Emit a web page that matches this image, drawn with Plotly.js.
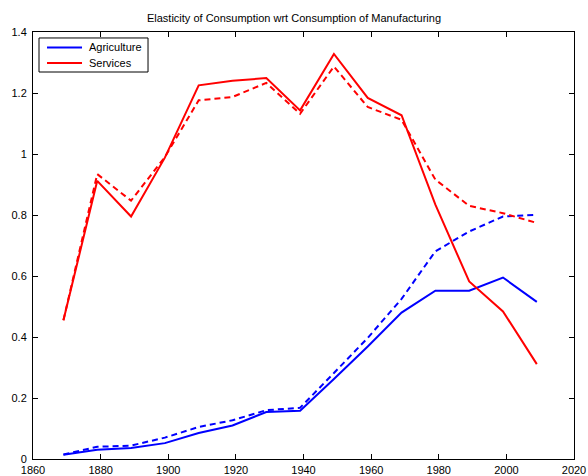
<!DOCTYPE html>
<html>
<head>
<meta charset="utf-8">
<script src="https://cdn.plot.ly/plotly-3.0.1.min.js"></script>
<style>html,body{margin:0;padding:0;background:#fff;}#chart{width:588px;height:476px;}</style>
</head>
<body>
<div id="chart"></div>
<script>
const years = [1869, 1879, 1889, 1899, 1909, 1919, 1929, 1939, 1949, 1959, 1969, 1979, 1989, 1999, 2009];
const agricultureData  = [0.014, 0.030, 0.036, 0.052, 0.085, 0.110, 0.154, 0.158, 0.262, 0.369, 0.480, 0.552, 0.552, 0.595, 0.515];
const agricultureModel = [0.015, 0.040, 0.044, 0.070, 0.105, 0.127, 0.160, 0.168, 0.282, 0.397, 0.525, 0.681, 0.746, 0.795, 0.801];
const servicesData     = [0.455, 0.912, 0.795, 0.988, 1.225, 1.240, 1.249, 1.143, 1.328, 1.184, 1.127, 0.834, 0.582, 0.484, 0.311];
const servicesModel    = [0.455, 0.934, 0.847, 0.990, 1.176, 1.187, 1.233, 1.132, 1.287, 1.154, 1.112, 0.916, 0.830, 0.806, 0.774];
const seriesNames = ['Agriculture', 'Services'];
const seriesColors = ['#0000ff', '#ff0000'];
const xTicks = [1860, 1880, 1900, 1920, 1940, 1960, 1980, 2000, 2020];
const yTicks = [0, 0.2, 0.4, 0.6, 0.8, 1, 1.2, 1.4];

const traces = [
  {x: years, y: agricultureData, name: seriesNames[0], mode: 'lines', line: {color: seriesColors[0], width: 2}},
  {x: years, y: servicesData, name: seriesNames[1], mode: 'lines', line: {color: seriesColors[1], width: 2}},
  {x: years, y: agricultureModel, mode: 'lines', line: {color: seriesColors[0], width: 2, dash: '6px,4px'}},
  {x: years, y: servicesModel, mode: 'lines', line: {color: seriesColors[1], width: 2, dash: '6px,4px'}}
];

const fontFam = 'Liberation Sans, Arial, sans-serif';
const axisCommon = {
  showgrid: false, zeroline: false, showline: true, mirror: 'ticks',
  linecolor: '#000', linewidth: 1, ticks: 'inside', ticklen: 5, tickcolor: '#000',
  tickfont: {family: fontFam, size: 11, color: '#000'}
};

// compact legend box (MATLAB style), drawn in paper coordinates
const legBox = {x0: 0.0111, x1: 0.2126, y0: 0.9063, y1: 0.986};
const legRows = [0.9638, 0.9274];
const shapes = [{type: 'rect', xref: 'paper', yref: 'paper', x0: legBox.x0, x1: legBox.x1, y0: legBox.y0, y1: legBox.y1,
                 line: {color: '#000', width: 1}, fillcolor: '#fff', layer: 'above'}];
const annotations = [];
seriesNames.forEach((nm, i) => {
  shapes.push({type: 'line', xref: 'paper', yref: 'paper', x0: 0.0259, x1: 0.0906, y0: legRows[i], y1: legRows[i],
               line: {color: seriesColors[i], width: 2}, layer: 'above'});
  annotations.push({xref: 'paper', yref: 'paper', x: 0.0998, y: legRows[i], xanchor: 'left', yanchor: 'middle',
                    text: nm, showarrow: false, font: {family: fontFam, size: 11, color: '#000'}});
});

const layout = {
  width: 588, height: 476,
  margin: {l: 33, r: 14, t: 32, b: 17},
  paper_bgcolor: '#fff', plot_bgcolor: '#fff',
  title: {text: 'Elasticity of Consumption wrt Consumption of Manufacturing',
          font: {family: fontFam, size: 11, color: '#000'},
          x: 0.5, xanchor: 'center', y: 0.962, yanchor: 'middle'},
  xaxis: Object.assign({}, axisCommon, {range: [1860, 2020], tickvals: xTicks, ticktext: xTicks.map(String), ticklabelstandoff: 1}),
  yaxis: Object.assign({}, axisCommon, {range: [0, 1.4], tickvals: yTicks, ticktext: yTicks.map(String), ticklabelstandoff: 3}),
  showlegend: false,
  shapes: shapes,
  annotations: annotations
};

Plotly.newPlot('chart', traces, layout, {displayModeBar: false, staticPlot: true});
</script>
</body>
</html>
